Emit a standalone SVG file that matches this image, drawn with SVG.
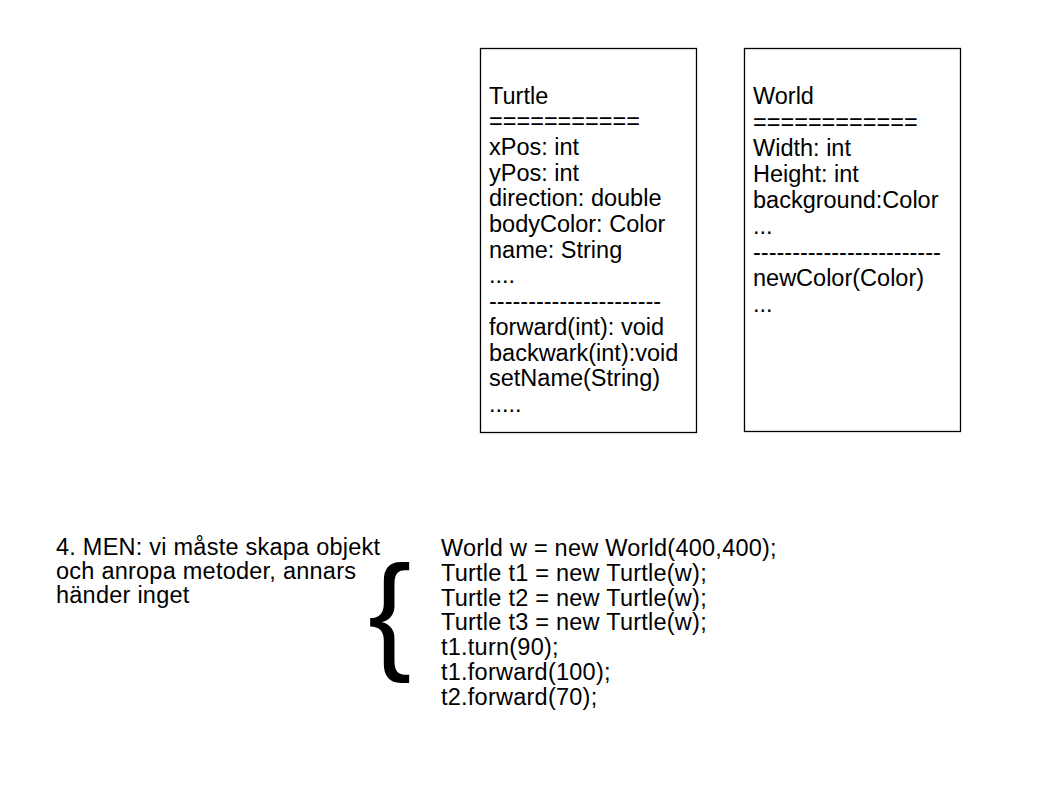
<svg xmlns="http://www.w3.org/2000/svg" width="1058" height="793" viewBox="0 0 1058 793">
<style>
.box{fill:#ffffff;stroke:#000000;stroke-width:1.3}
.t{font-family:"Liberation Sans",Arial,sans-serif;font-size:23.5px;fill:#000000}
.c{font-family:"Liberation Sans",Arial,sans-serif;font-size:23.5px;letter-spacing:0.24px;fill:#000000}
.brace{font-family:"Liberation Sans",Arial,sans-serif;font-size:130px;fill:#000000}
</style>
<rect width="1058" height="793" fill="#ffffff"/>
<g id="turtle">
<rect class="box" x="480.5" y="48.5" width="216" height="384"/>
<text class="t">
<tspan x="489" y="103.5">Turtle</tspan>
<tspan x="489" y="129.2">===========</tspan>
<tspan x="489" y="154.9">xPos: int</tspan>
<tspan x="489" y="180.6">yPos: int</tspan>
<tspan x="489" y="206.3">direction: double</tspan>
<tspan x="489" y="232">bodyColor: Color</tspan>
<tspan x="489" y="257.7">name: String</tspan>
<tspan x="489" y="283.4">....</tspan>
<tspan x="489" y="309.1">----------------------</tspan>
<tspan x="489" y="334.8">forward(int): void</tspan>
<tspan x="489" y="360.5">backwark(int):void</tspan>
<tspan x="489" y="386.2">setName(String)</tspan>
<tspan x="489" y="411.9">.....</tspan>
</text>
</g>
<g id="world">
<rect class="box" x="744.5" y="48.5" width="216" height="383"/>
<text class="t">
<tspan x="753" y="103.5">World</tspan>
<tspan x="753" y="129.5">============</tspan>
<tspan x="753" y="155.5">Width: int</tspan>
<tspan x="753" y="181.5">Height: int</tspan>
<tspan x="753" y="207.5">background:Color</tspan>
<tspan x="753" y="233.5">...</tspan>
<tspan x="753" y="259.5">------------------------</tspan>
<tspan x="753" y="285.5">newColor(Color)</tspan>
<tspan x="753" y="311.5">...</tspan>
</text>
</g>
<g id="note">
<text class="c">
<tspan x="56" y="555">4. MEN: vi måste skapa objekt</tspan>
<tspan x="56" y="579.2">och anropa metoder, annars</tspan>
<tspan x="56" y="603.4">händer inget</tspan>
</text>
</g>
<g id="brace">
<text class="brace" x="368" y="656">{</text>
</g>
<g id="code">
<text class="c">
<tspan x="441" y="556">World w = new World(400,400);</tspan>
<tspan x="441" y="580.8">Turtle t1 = new Turtle(w);</tspan>
<tspan x="441" y="605.6">Turtle t2 = new Turtle(w);</tspan>
<tspan x="441" y="630.4">Turtle t3 = new Turtle(w);</tspan>
<tspan x="441" y="655.2">t1.turn(90);</tspan>
<tspan x="441" y="680">t1.forward(100);</tspan>
<tspan x="441" y="704.8">t2.forward(70);</tspan>
</text>
</g>
<g id="connectors"></g>
</svg>
